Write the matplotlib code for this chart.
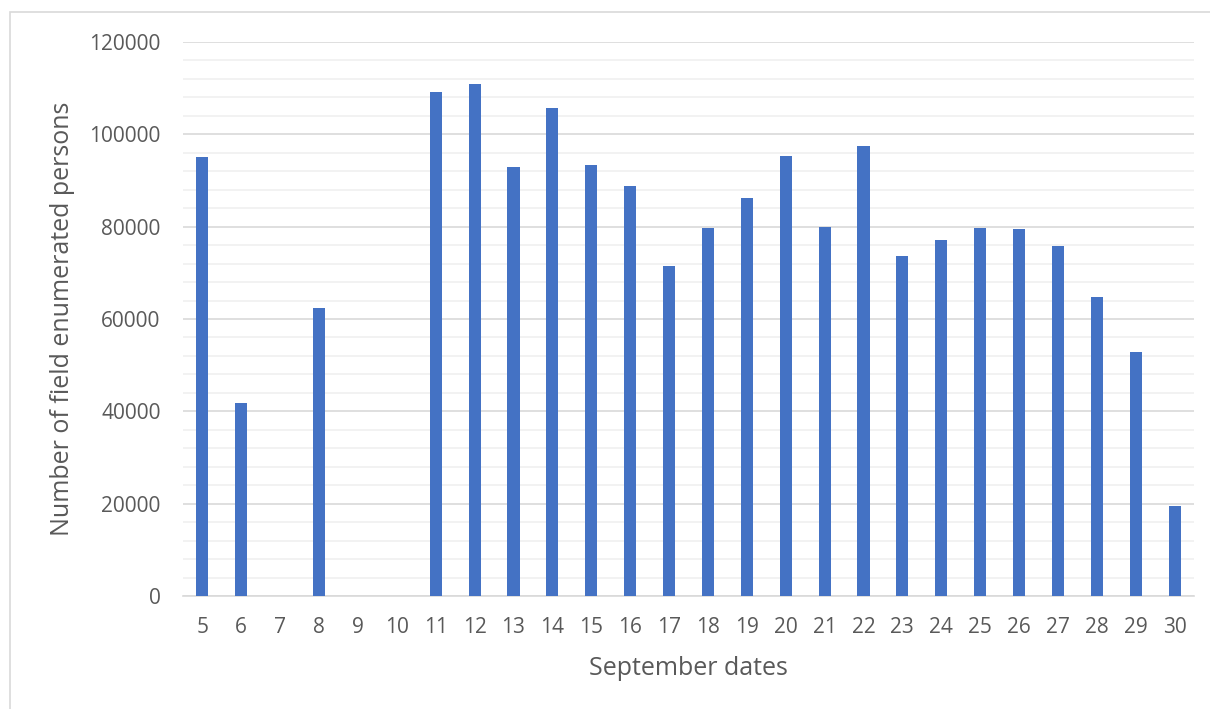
import numpy as np
import matplotlib
matplotlib.use("Agg")
import matplotlib.pyplot as plt
import matplotlib.patches as patches
from matplotlib.ticker import MultipleLocator

# data
dates = ["5", "6", "7", "8", "9", "10", "11", "12", "13", "14", "15", "16", "17",
         "18", "19", "20", "21", "22", "23", "24", "25", "26", "27", "28", "29", "30"]
persons = [95000, 41800, 0, 62400, 0, 0, 109200, 110900, 92900, 105700, 93300, 88700,
           71500, 79700, 86200, 95300, 79900, 97500, 73600, 77100, 79700, 79500,
           75800, 64800, 52900, 19500]

plt.rcParams['font.family'] = ['Open Sans', 'DejaVu Sans']
text_color = "#595959"

fig = plt.figure(figsize=(12.1, 7.09), dpi=100)
ax = fig.add_axes([0.1512, 0.1594, 0.8356, 0.7814])

x = np.arange(len(dates))
ax.bar(x, persons, width=0.31, color="#4472C4", zorder=3)

ax.set_xlim(-0.5, len(dates) - 0.5)
ax.set_ylim(0, 120000)
ax.set_xticks(x)
ax.set_xticklabels(dates)
ax.yaxis.set_major_locator(MultipleLocator(20000))
ax.yaxis.set_minor_locator(MultipleLocator(4000))
ax.grid(axis="y", which="major", color="#d9d9d9", linewidth=1.2, zorder=0)
ax.grid(axis="y", which="minor", color="#f0f0f0", linewidth=1.2, zorder=0)

for s in ["top", "right", "left"]:
    ax.spines[s].set_visible(False)
ax.spines["bottom"].set_color("#d9d9d9")
ax.spines["bottom"].set_linewidth(1.2)
ax.tick_params(axis="both", which="both", length=0, labelsize=15, colors=text_color)
ax.tick_params(axis="x", pad=15)
ax.tick_params(axis="y", pad=16)

ax.set_xlabel("September dates", fontsize=18, color=text_color, labelpad=13)
ax.set_ylabel("Number of field enumerated persons", fontsize=18, color=text_color, labelpad=10)

# chart border
border = patches.Rectangle((10 / 1210, -0.1), 1.2, 1 - 12 / 709 + 0.1,
                           transform=fig.transFigure, fill=False,
                           edgecolor="#d9d9d9", linewidth=1.2)
fig.patches.append(border)

fig.savefig("out.png", dpi=100)
